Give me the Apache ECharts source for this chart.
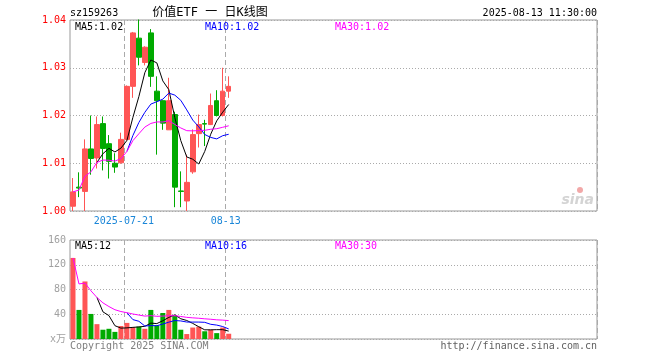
<!DOCTYPE html>
<html>
<head>
<meta charset="utf-8">
<script src="https://cdn.jsdelivr.net/npm/echarts@6/dist/echarts.min.js"></script>
<style>html,body{margin:0;padding:0;background:#fff}#c{width:660px;height:360px}</style>
</head>
<body>
<div id="c"></div>
<script>
// ---- data ----
const categories = ['2025-07-08','2025-07-09','2025-07-10','2025-07-11','2025-07-14','2025-07-15','2025-07-16','2025-07-17','2025-07-18',
  '2025-07-21','2025-07-22','2025-07-23','2025-07-24','2025-07-25','2025-07-28','2025-07-29','2025-07-30','2025-07-31','2025-08-01',
  '2025-08-04','2025-08-05','2025-08-06','2025-08-07','2025-08-08','2025-08-11','2025-08-12','2025-08-13'];
const openP  = [1.0010,1.0050,1.0041,1.0130,1.0111,1.0183,1.0141,1.0100,1.0101,1.0150,1.0261,1.0362,1.0311,1.0373,1.0251,1.0231,1.0170,1.0202,1.0042,1.0021,1.0082,1.0162,1.0183,1.0181,1.0231,1.0200,1.0251];
const closeP = [1.0040,1.0048,1.0130,1.0110,1.0181,1.0131,1.0104,1.0092,1.0150,1.0261,1.0373,1.0322,1.0343,1.0282,1.0231,1.0184,1.0231,1.0050,1.0041,1.0060,1.0160,1.0181,1.0182,1.0221,1.0200,1.0251,1.0261];
const lowP   = [1.0000,1.0029,1.0000,1.0076,1.0089,1.0085,1.0068,1.0080,1.0099,1.0147,1.0237,1.0305,1.0305,1.0260,1.0118,1.0170,1.0170,1.0008,1.0008,1.0000,1.0078,1.0133,1.0136,1.0180,1.0198,1.0198,1.0237];
const highP  = [1.0069,1.0081,1.0150,1.0200,1.0198,1.0198,1.0159,1.0121,1.0164,1.0263,1.0375,1.0401,1.0345,1.0381,1.0282,1.0232,1.0279,1.0208,1.0083,1.0118,1.0171,1.0202,1.0191,1.0246,1.0253,1.0300,1.0282];
const volume = [131,47,93,40.5,24,15,16.5,11.5,21,26,19,20,16.5,47,22,42,47,37.5,15,8,18.5,20,12.5,15,9.5,18.5,8.5];
const labelIndex = [9, 26];
const labelText = ['2025-07-21', '08-13'];
const priceTicks = [1.00, 1.04, 0.01];   // min, max, step
const volTicks = [0, 160, 40];
const SLOTS = 88;

// ---- helpers ----
function ma(src, n, partial) {
  return src.map((v, i) => {
    if (i < n - 1 && !partial) return '-';
    const s = Math.max(0, i - n + 1);
    let sum = 0;
    for (let j = s; j <= i; j++) sum += src[j];
    return +(sum / (i - s + 1)).toFixed(5);
  });
}
const axisCats = categories.slice();
for (let i = categories.length; i < SLOTS; i++) axisCats.push('_' + i);

const UP = '#ff5555', DOWN = '#00aa00';
const mono = '"DejaVu Sans Mono", "Noto Sans CJK SC", monospace';
const candles = categories.map((d, i) => [openP[i], closeP[i], lowP[i], highP[i]]);
const volData = volume.map((v, i) => ({ value: v, itemStyle: { color: closeP[i] >= openP[i] ? UP : DOWN } }));
const showIdx = (i) => labelIndex.indexOf(i) >= 0;

function xAx(grid, withLabel) {
  return {
    type: 'category', gridIndex: grid, data: axisCats, boundaryGap: true,
    axisLine: { show: false }, axisTick: { show: false },
    axisLabel: withLabel ? {
      interval: (i) => showIdx(i),
      formatter: (v, i) => labelText[labelIndex.indexOf(i)] || '',
      color: '#1a86d8', fontFamily: mono, fontSize: 10, margin: 5, padding: [0, 6, 0, 0]
    } : { show: false },
    splitLine: { show: true, interval: (i) => showIdx(i), lineStyle: { color: '#aaa', type: [5, 3], width: 1 } }
  };
}
function line(name, data, color, xi, yi) {
  return { name, type: 'line', data, xAxisIndex: xi, yAxisIndex: yi, symbol: 'none', showSymbol: false,
    lineStyle: { color, width: 1 }, itemStyle: { color }, silent: true, z: 3 };
}
function txt(x, y, text, color, align) {
  return { type: 'text', x, y, silent: true, z: 10,
    style: { text, fill: color, font: '10px ' + mono, align: align || 'left', verticalAlign: 'middle',
      textAlign: align || 'left', textVerticalAlign: 'middle' } };
}

const option = {
  animation: false,
  backgroundColor: '#fff',
  grid: [
    { left: 70, right: 63, top: 20, height: 191, show: true, borderColor: '#999', borderWidth: 1 },
    { left: 70, right: 63, top: 240, height: 99, show: true, borderColor: '#999', borderWidth: 1 }
  ],
  xAxis: [xAx(0, true), xAx(1, false)],
  yAxis: [
    { type: 'value', gridIndex: 0, min: priceTicks[0], max: priceTicks[1], interval: priceTicks[2],
      axisLine: { show: false }, axisTick: { show: false },
      axisLabel: { color: '#ff0000', fontFamily: mono, fontSize: 10, margin: 4, formatter: (v) => v.toFixed(2) },
      splitLine: { lineStyle: { color: '#aaa', type: [1, 2] } } },
    { type: 'value', gridIndex: 1, min: volTicks[0], max: volTicks[1], interval: volTicks[2],
      axisLine: { show: false }, axisTick: { show: false },
      axisLabel: { color: '#a0a0a0', fontFamily: mono, fontSize: 10, margin: 4, formatter: (v) => v === 0 ? 'x万' : String(v) },
      splitLine: { lineStyle: { color: '#aaa', type: [1, 2] } } }
  ],
  series: [
    { type: 'candlestick', data: candles, xAxisIndex: 0, yAxisIndex: 0, barWidth: 5,
      itemStyle: { color: UP, color0: DOWN, borderColor: UP, borderColor0: DOWN, borderWidth: 1 }, z: 2 },
    line('MA5', ma(closeP, 5, false), '#000000', 0, 0),
    line('MA10', ma(closeP, 10, false), '#0000ff', 0, 0),
    line('MA30', ma(closeP, 30, true), '#ff00ff', 0, 0),
    { type: 'bar', data: volData, xAxisIndex: 1, yAxisIndex: 1, barWidth: 5, z: 2 },
    line('VMA5', ma(volume, 5, false), '#000000', 1, 1),
    line('VMA10', ma(volume, 10, false), '#0000ff', 1, 1),
    line('VMA30', ma(volume, 30, true), '#ff00ff', 1, 1)
  ],
  graphic: [
    txt(70, 13, 'sz159263', '#000'),
    { type: 'text', x: 210, y: 13, silent: true,
      style: { text: '价值ETF 一 日K线图', fill: '#000', font: '12px ' + mono, align: 'center', verticalAlign: 'middle',
        textAlign: 'center', textVerticalAlign: 'middle' } },
    txt(597, 13, '2025-08-13 11:30:00', '#000', 'right'),
    txt(75, 27, 'MA5:1.02', '#000'),
    txt(205, 27, 'MA10:1.02', '#0000ff'),
    txt(335, 27, 'MA30:1.02', '#ff00ff'),
    txt(75, 246, 'MA5:12', '#000'),
    txt(205, 246, 'MA10:16', '#0000ff'),
    txt(335, 246, 'MA30:30', '#ff00ff'),
    txt(70, 346, 'Copyright 2025 SINA.COM', '#808080'),
    txt(597, 346, 'http://finance.sina.com.cn', '#606060', 'right'),
    { type: 'text', x: 594, y: 200, silent: true,
      style: { text: 'sina', fill: '#d4d4d4', font: 'italic bold 14px "DejaVu Sans"', align: 'right', textAlign: 'right',
        verticalAlign: 'middle', textVerticalAlign: 'middle' } },
    { type: 'circle', shape: { cx: 580, cy: 190, r: 3 }, style: { fill: '#f2a8a8' }, silent: true }
  ]
};
const chart = echarts.init(document.getElementById('c'), null, { renderer: 'canvas' });
chart.setOption(option);
</script>
</body>
</html>
